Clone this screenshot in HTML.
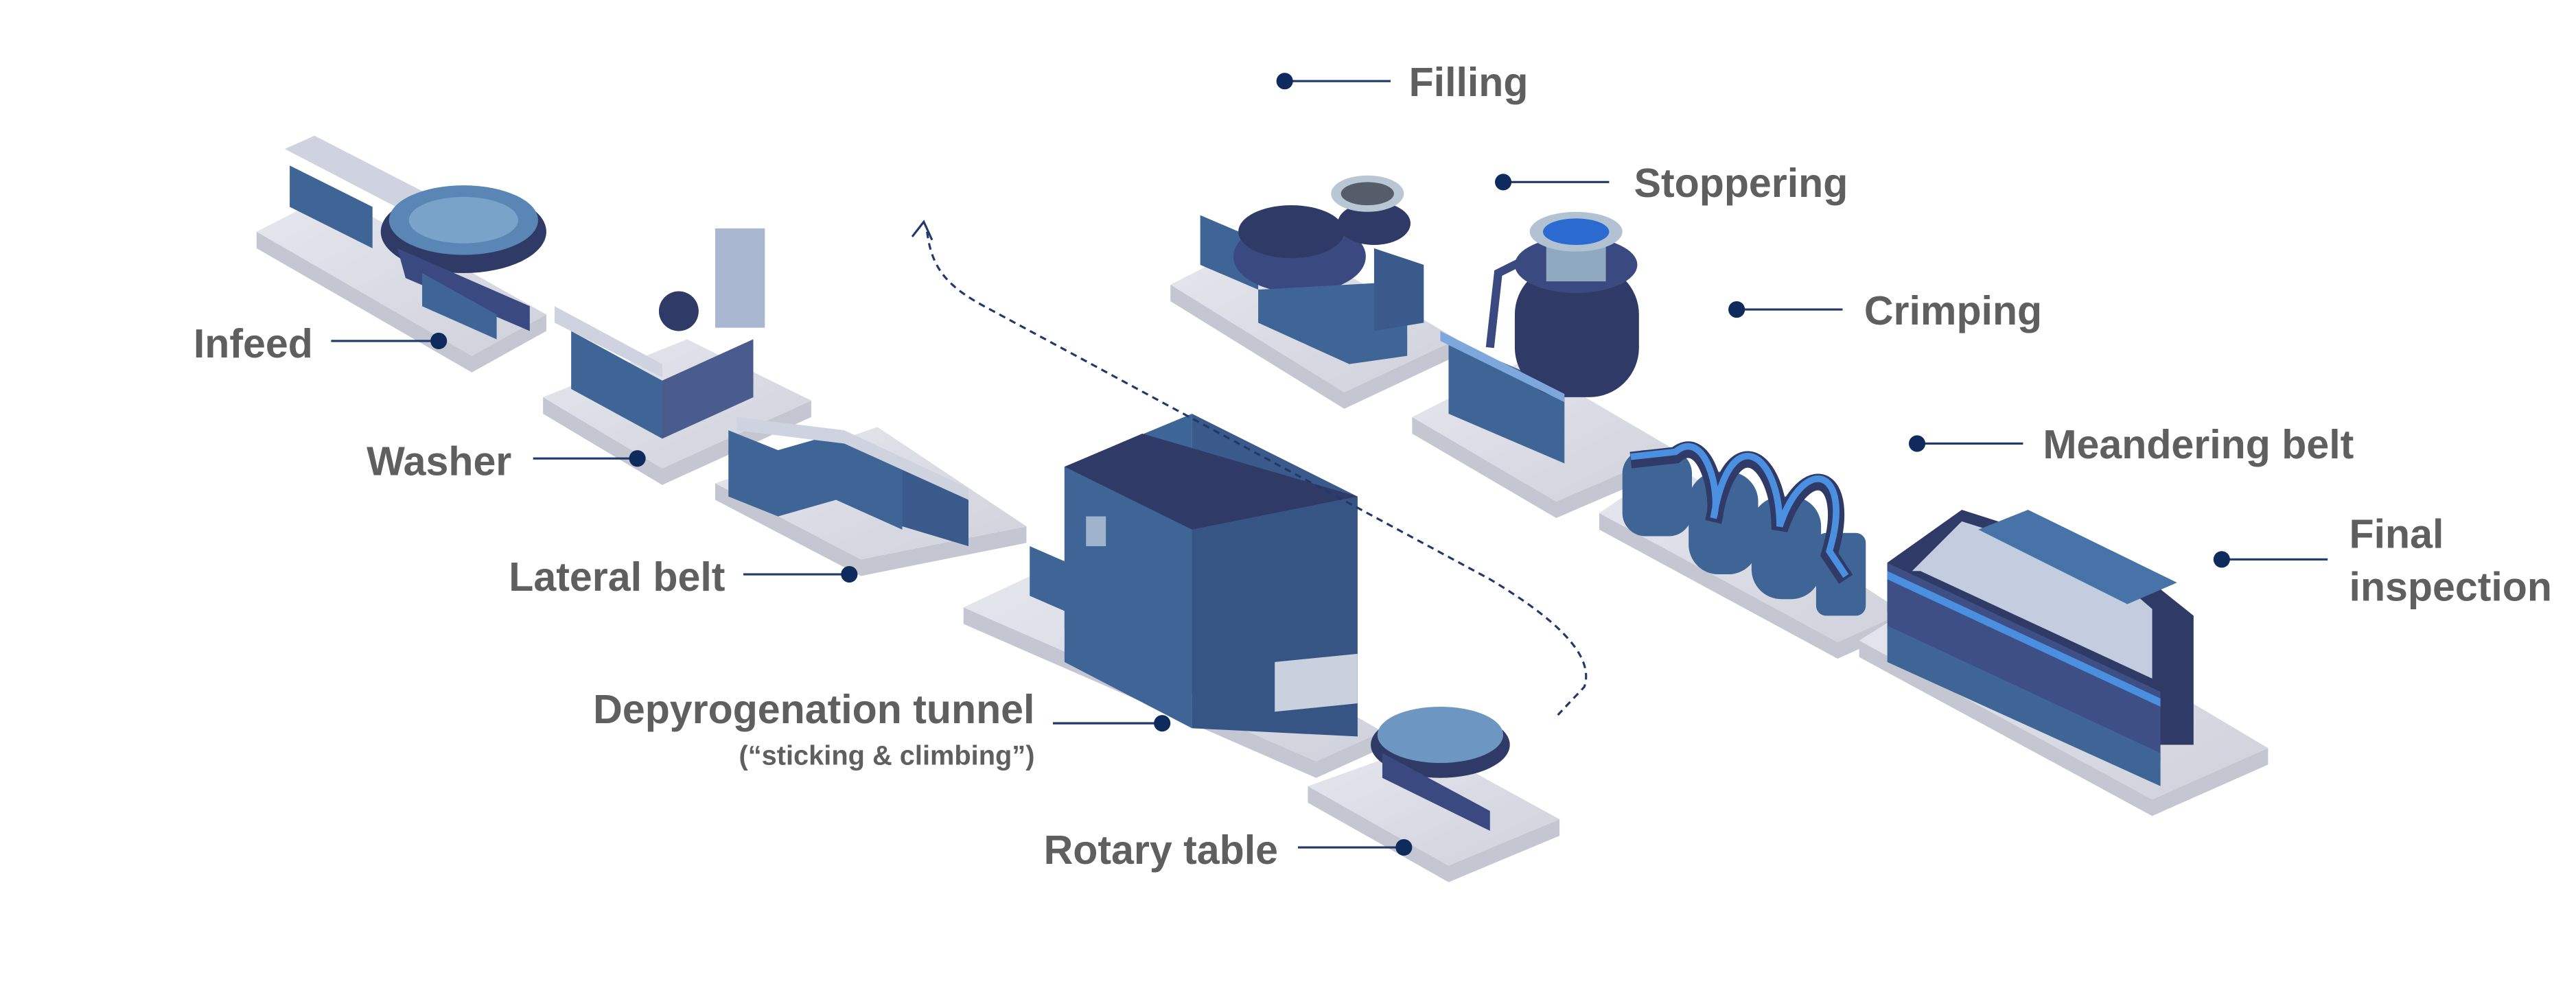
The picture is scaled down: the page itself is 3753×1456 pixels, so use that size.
<!DOCTYPE html>
<html><head><meta charset="utf-8"><style>
html,body{margin:0;padding:0;background:#fff}
svg{display:block}
text{font-family:"Liberation Sans",Arial,sans-serif;font-weight:bold;fill:#5f5f5f}
</style></head><body>
<svg width="3753" height="1456" viewBox="0 0 1556 603.6" preserveAspectRatio="none" xmlns="http://www.w3.org/2000/svg">
<defs>
<linearGradient id="pl" x1="0" y1="0" x2="1" y2="1"><stop offset="0" stop-color="#e6e7ee"/><stop offset="1" stop-color="#cfd1dc"/></linearGradient>
</defs>
<g stroke="none">
<polygon points="155,150 285,225 330,200 330,190 285,215 155,140" fill="#c4c6d2"/>
<polygon points="155,140 200,117 330,190 285,215" fill="url(#pl)"/>
<polygon points="328,250 400,293 490,252 490,242 400,283 328,240" fill="#c4c6d2"/>
<polygon points="328,240 415,205 490,242 400,283" fill="url(#pl)"/>
<polygon points="432,302 520,348 620,328 620,318 520,338 432,292" fill="#c4c6d2"/>
<polygon points="432,292 530,258 620,318 520,338" fill="url(#pl)"/>
<polygon points="582,377 795,470 835,452 835,442 795,460 582,367" fill="#c4c6d2"/>
<polygon points="582,367 650,335 835,442 795,460" fill="url(#pl)"/>
<polygon points="790,485 875,533 942,505 942,495 875,523 790,475" fill="#c4c6d2"/>
<polygon points="790,475 860,450 942,495 875,523" fill="url(#pl)"/>
<polygon points="707,182 812,247 880,215 880,205 812,237 707,172" fill="#c4c6d2"/>
<polygon points="707,172 770,140 880,205 812,237" fill="url(#pl)"/>
<polygon points="853,262 940,313 1012,282 1012,272 940,303 853,252" fill="#c4c6d2"/>
<polygon points="853,252 920,218 1012,272 940,303" fill="url(#pl)"/>
<polygon points="966,320 1110,398 1150,380 1150,370 1110,388 966,310" fill="#c4c6d2"/>
<polygon points="966,310 1010,280 1150,370 1110,388" fill="url(#pl)"/>
<polygon points="1123,397 1300,493 1370,462 1370,452 1300,483 1123,387" fill="#c4c6d2"/>
<polygon points="1123,387 1190,345 1370,452 1300,483" fill="url(#pl)"/>
</g>

<g>
<polygon points="175,100 225,125 225,150 175,125" fill="#3f6597"/>
<polygon points="172,90 190,82 260,118 245,128" fill="#cfd3df"/>
<ellipse cx="280" cy="140" rx="50" ry="25" fill="#2f3a66"/>
<ellipse cx="280" cy="133" rx="45" ry="21" fill="#5a86b5"/>
<ellipse cx="280" cy="133" rx="33" ry="14" fill="#7aa3c9"/>
<polygon points="240,150 320,185 320,200 245,168" fill="#3a4a80"/>
<polygon points="255,165 300,190 300,205 255,185" fill="#3f6597"/>
<polygon points="345,200 400,230 455,205 455,240 400,265 345,235" fill="#3f6597"/>
<polygon points="400,230 455,205 455,240 400,265" fill="#4a5c8e"/>
<polygon points="335,185 400,220 400,228 335,195" fill="#cfd3df"/>
<rect x="432" y="138" width="30" height="60" fill="#a9b8d0"/>
<circle cx="410" cy="188" r="12" fill="#2f3a66"/>
<!-- Lateral belt -->
<polygon points="440,260 470,272 505,262 545,280 545,320 505,302 470,312 440,300" fill="#3f6597"/>
<polygon points="545,280 585,300 585,330 545,318" fill="#3a5a8c"/>
<polygon points="445,252 510,260 585,295 585,302 510,268 445,260" fill="#cfd3df"/>
<!-- Depyro -->
<polygon points="622,330 645,340 645,370 622,360" fill="#3f6597"/>
<polygon points="643,282 720,250 720,420 643,380" fill="#3d6597"/>
<polygon points="720,250 820,300 820,445 720,420" fill="#3a5a8c"/>
<polygon points="643,282 690,262 820,300 720,320" fill="#2f3a66"/>
<polygon points="643,282 720,320 720,440 643,400" fill="#3f6597"/>
<polygon points="720,320 820,300 820,445 720,440" fill="#375584"/>
<polygon points="770,400 820,395 820,425 770,430" fill="#c9d0de"/>
<rect x="656" y="312" width="12" height="18" fill="#9fb4cc"/>
<ellipse cx="870" cy="450" rx="42" ry="20" fill="#2f3a66"/>
<ellipse cx="870" cy="444" rx="38" ry="17" fill="#6d97c0"/>
<polygon points="835,455 900,490 900,502 835,470" fill="#3a4a80"/>
<polygon points="725,130 760,145 760,175 725,160" fill="#3f6597"/>
<ellipse cx="785" cy="155" rx="40" ry="22" fill="#3a4a80"/>
<ellipse cx="780" cy="140" rx="32" ry="16" fill="#2f3a66"/>
<polygon points="760,175 850,170 850,215 815,220 760,195" fill="#3f6597"/>
<ellipse cx="830" cy="135" rx="22" ry="13" fill="#2f3a66"/>
<ellipse cx="826" cy="117" rx="22" ry="11" fill="#b9c6d4"/>
<ellipse cx="826" cy="117" rx="16" ry="7" fill="#555c6a"/>
<polygon points="830,150 860,160 860,195 830,200" fill="#3a5a8c"/>
<polygon points="875,205 945,235 945,280 875,250" fill="#3f6597"/>
<rect x="915" y="160" width="75" height="80" rx="30" fill="#2f3a66"/>
<ellipse cx="952" cy="160" rx="37" ry="17" fill="#3a4a80"/>
<rect x="934" y="140" width="36" height="30" fill="#8ea9c0"/>
<ellipse cx="952" cy="140" rx="28" ry="12" fill="#b3c2d2"/>
<ellipse cx="952" cy="140" rx="20" ry="8" fill="#2b6bd1"/>
<path d="M925,155 L905,165 L900,210" stroke="#3a4a80" stroke-width="5" fill="none"/>
<polygon points="870,200 945,238 945,243 870,206" fill="#7ea8dc"/>
<!-- Meandering -->
<g fill="#3f6597">
<rect x="980" y="272" width="42" height="52" rx="14"/>
<rect x="1020" y="285" width="42" height="62" rx="18"/>
<rect x="1058" y="300" width="42" height="62" rx="18"/>
<rect x="1097" y="322" width="30" height="50" rx="6"/>
</g>
<path d="M985,278 L1012,275 C1030,260 1040,300 1035,315 C1045,255 1075,275 1075,320 C1090,275 1120,285 1105,335 L1115,350" stroke="#2f3a66" stroke-width="10" fill="none"/>
<path d="M985,276 L1012,273 C1030,258 1040,298 1035,313 C1045,253 1075,273 1075,318 C1090,273 1120,283 1105,333 L1115,348" stroke="#4b8fe0" stroke-width="4" fill="none"/>
<polygon points="1140,340 1185,308 1285,340 1325,372 1325,450 1305,450 1140,370" fill="#2f3a66"/>
<polygon points="1140,340 1305,418 1305,460 1140,380" fill="#3d4f85"/>
<polygon points="1155,345 1185,315 1270,342 1300,368 1300,410 1160,345" fill="#c4cde0"/>
<polygon points="1195,320 1225,308 1315,352 1285,365" fill="#4873a8"/>
<polygon points="1140,378 1305,455 1305,475 1140,400" fill="#3f6597"/>
<polygon points="1140,345 1305,422 1305,427 1140,350" fill="#4b8fe0"/>
</g>

<path d="M560,140 C563,165 575,175 600,188 L900,350 C950,380 962,400 957,415 L941,432" stroke="#22386a" stroke-width="1.3" stroke-dasharray="4,3" fill="none"/>
<path d="M551,143 L558,134 L563,145" stroke="#22386a" stroke-width="1.3" fill="none"/>

<g stroke="#1f3a6a" stroke-width="1.3">
<line x1="776" y1="49" x2="840" y2="49"/>
<line x1="908" y1="110" x2="972" y2="110"/>
<line x1="1049" y1="187" x2="1113" y2="187"/>
<line x1="1158" y1="268" x2="1222" y2="268"/>
<line x1="1342" y1="338" x2="1406" y2="338"/>
<line x1="200" y1="206" x2="265" y2="206"/>
<line x1="322" y1="277" x2="385" y2="277"/>
<line x1="449" y1="347" x2="513" y2="347"/>
<line x1="636" y1="437" x2="702" y2="437"/>
<line x1="784" y1="512" x2="848" y2="512"/>
</g>
<g fill="#0f2a5c">
<circle cx="776" cy="49" r="5"/><circle cx="908" cy="110" r="5"/><circle cx="1049" cy="187" r="5"/>
<circle cx="1158" cy="268" r="5"/><circle cx="1342" cy="338" r="5"/><circle cx="265" cy="206" r="5"/>
<circle cx="385" cy="277" r="5"/><circle cx="513" cy="347" r="5"/><circle cx="702" cy="437" r="5"/>
<circle cx="848" cy="512" r="5"/>
</g>

<g font-size="24.5">
<text x="851" y="58">Filling</text>
<text x="987" y="119">Stoppering</text>
<text x="1126" y="196">Crimping</text>
<text x="1234" y="277">Meandering belt</text>
<text x="1419" y="331">Final</text>
<text x="1419" y="363">inspection</text>
<text x="189" y="216" text-anchor="end">Infeed</text>
<text x="309" y="287" text-anchor="end">Washer</text>
<text x="438" y="357" text-anchor="end">Lateral belt</text>
<text x="625" y="437" text-anchor="end">Depyrogenation tunnel</text>
<text x="772" y="522" text-anchor="end">Rotary table</text>
</g>
<text x="625" y="462" text-anchor="end" font-size="16.5">(“sticking &amp; climbing”)</text>
</svg>
</body></html>
